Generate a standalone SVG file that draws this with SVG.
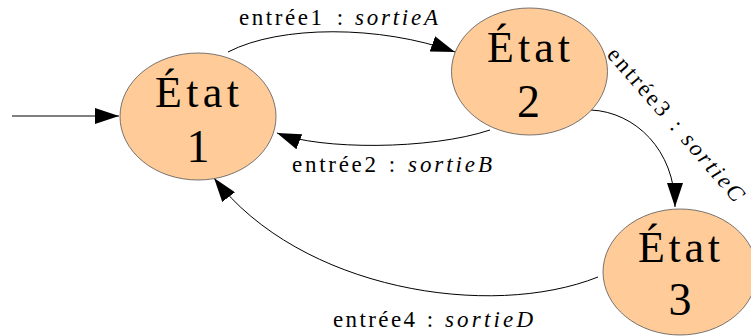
<svg xmlns="http://www.w3.org/2000/svg" width="751" height="336" viewBox="0 0 751 336">
<style>
.node ellipse{fill:#ffcc99;stroke:#555;stroke-width:0.8}
.nt{font-family:"Liberation Serif","Times New Roman",serif;font-size:44px;fill:#000}
.nd{font-family:"Liberation Serif","Times New Roman",serif;font-size:46px;fill:#000;text-anchor:middle}
.edge{fill:none;stroke:#000;stroke-width:1;marker-end:url(#arr)}
.lbl{font-family:"Liberation Serif","Times New Roman",serif;font-size:23px;fill:#000}
.c{text-anchor:middle}
.it{font-style:italic}
</style>
<defs>
<marker id="arr" markerUnits="userSpaceOnUse" markerWidth="24" markerHeight="16" refX="24" refY="8" orient="auto" viewBox="0 0 24 16">
<path d="M0,0 L24,8 L0,16 Z" fill="#000"/>
</marker>
</defs>
<g id="connectors">
<path class="edge" d="M12,116 L119,116"/>
<path class="edge" d="M228,52 C280,25 380,25 455,52"/>
<path class="edge" d="M490,130 C430,150 320,150 277,133"/>
<path class="edge" d="M591,110 C635,112 675,150 675,207"/>
<path class="edge" d="M598,277 C490,320 300,290 214,178"/>
<g id="label1">
<text class="lbl" x="239" y="25" textLength="83">entrée1</text>
<text class="lbl c" x="340" y="25">:</text>
<text class="lbl it" x="355" y="25" textLength="83">sortieA</text>
</g>
<g id="label2">
<text class="lbl" x="292" y="172" textLength="84">entrée2</text>
<text class="lbl c" x="392" y="172">:</text>
<text class="lbl it" x="408" y="172" textLength="84">sortieB</text>
</g>
<g id="label3" transform="translate(671,130) rotate(49)">
<text class="lbl" x="-99" y="0" textLength="83">entrée3</text>
<text class="lbl c" x="0" y="0">:</text>
<text class="lbl it" x="14" y="0" textLength="83">sortieC</text>
</g>
<g id="label4">
<text class="lbl" x="333" y="327" textLength="82">entrée4</text>
<text class="lbl c" x="430" y="327">:</text>
<text class="lbl it" x="445" y="327" textLength="88">sortieD</text>
</g>
</g>
<g id="etat1" class="node">
<ellipse cx="198" cy="116.5" rx="78" ry="63.5"/>
<text class="nt" x="155" y="107" textLength="84">État</text>
<text class="nd" x="198" y="162">1</text>
</g>
<g id="etat2" class="node">
<ellipse cx="529.5" cy="71.5" rx="78" ry="63.5"/>
<text class="nt" x="487" y="62" textLength="83">État</text>
<text class="nd" x="528.5" y="117">2</text>
</g>
<g id="etat3" class="node">
<ellipse cx="680" cy="272" rx="77" ry="63"/>
<text class="nt" x="638" y="262" textLength="82">État</text>
<text class="nd" x="680" y="315">3</text>
</g>
</svg>
